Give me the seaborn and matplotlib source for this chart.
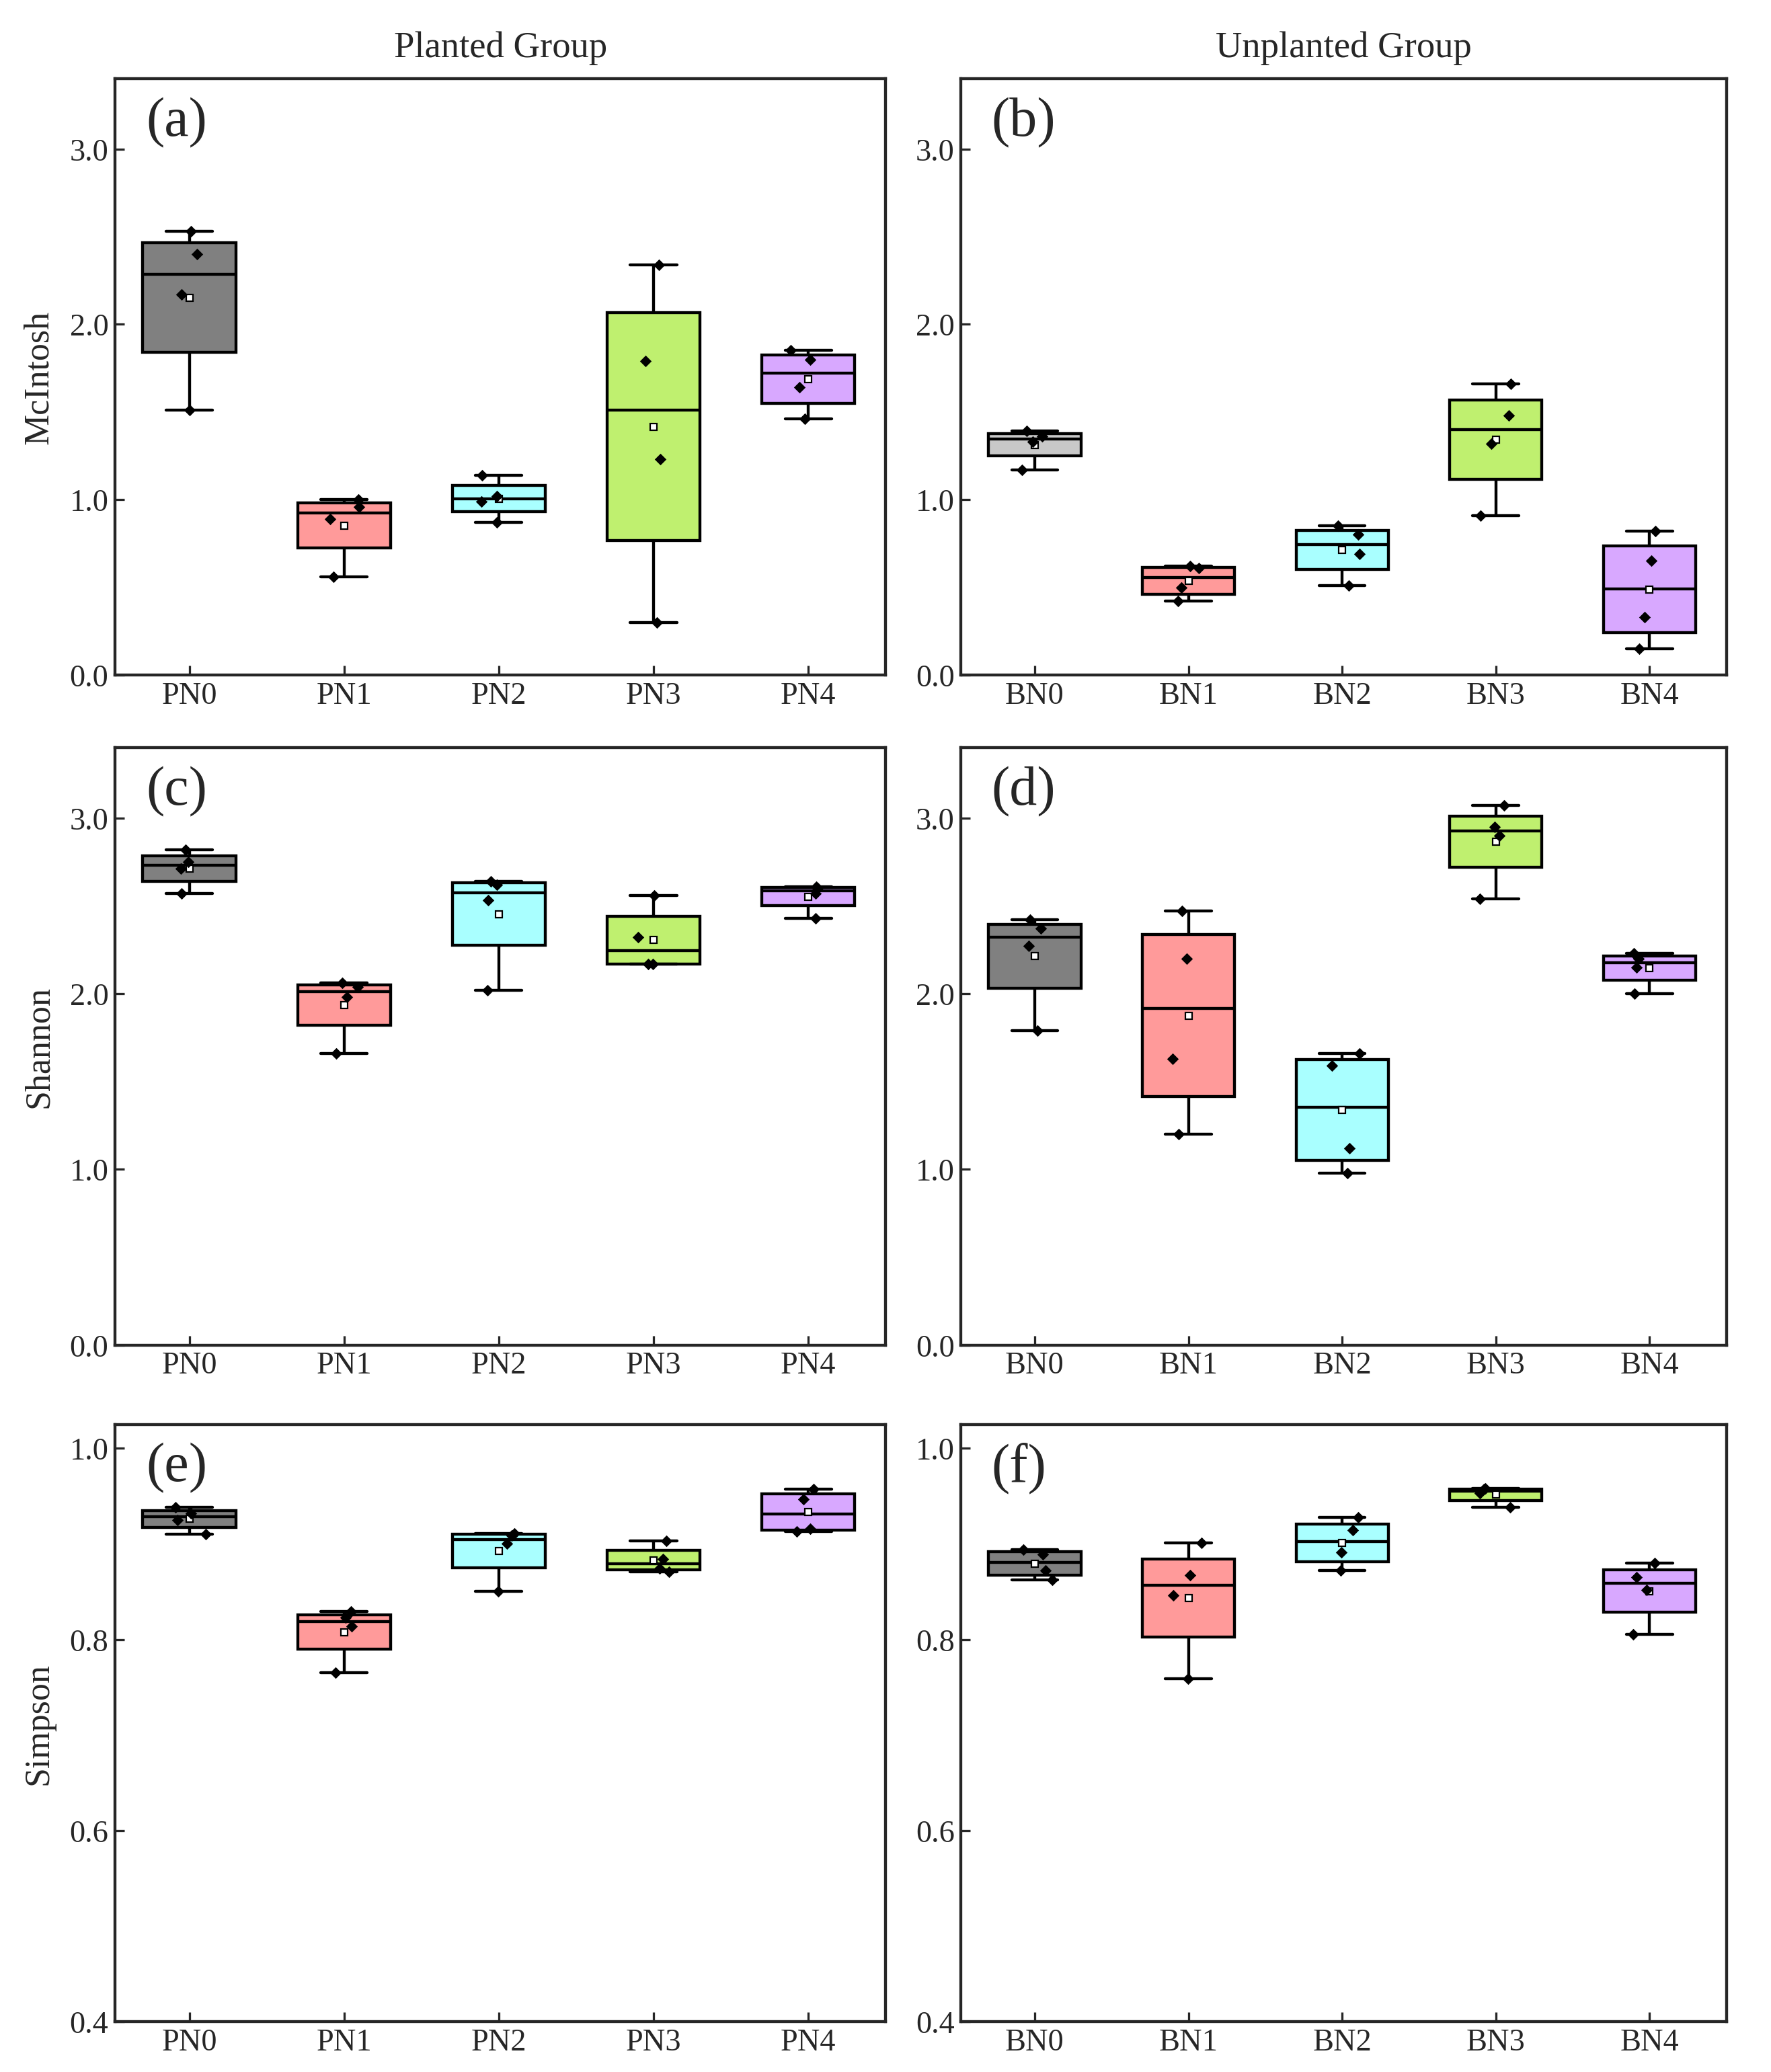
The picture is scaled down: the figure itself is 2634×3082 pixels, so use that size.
import numpy as np
import pandas as pd
import seaborn as sns
import matplotlib.pyplot as plt
import matplotlib.cbook as cbook

sns.set_style("ticks")
plt.rcParams['font.family'] = ['Liberation Serif', 'DejaVu Serif']


class _NpShim:
    """numpy proxy so box quartiles use the midpoint method (as in the reference)."""
    def __getattr__(self, name):
        return getattr(np, name)

    def percentile(self, a, q, *args, **kw):
        kw.pop("method", None)
        return np.percentile(a, q, method="midpoint")


cbook.np = _NpShim()

planted = ["PN0", "PN1", "PN2", "PN3", "PN4"]
unplanted = ["BN0", "BN1", "BN2", "BN3", "BN4"]

mc_p = [[2.53, 2.40, 2.17, 1.51], [1.00, 0.96, 0.89, 0.56], [1.14, 1.02, 0.99, 0.87],
        [2.34, 1.79, 1.23, 0.30], [1.85, 1.80, 1.64, 1.46]]
mc_u = [[1.39, 1.36, 1.33, 1.17], [0.62, 0.61, 0.50, 0.42], [0.85, 0.80, 0.69, 0.51],
        [1.66, 1.48, 1.32, 0.91], [0.82, 0.65, 0.33, 0.15]]
sh_p = [[2.82, 2.75, 2.71, 2.57], [2.06, 2.04, 1.98, 1.66], [2.64, 2.62, 2.53, 2.02],
        [2.56, 2.32, 2.17, 2.17], [2.61, 2.60, 2.57, 2.43]]
sh_u = [[2.42, 2.37, 2.27, 1.79], [2.47, 2.20, 1.63, 1.20], [1.66, 1.59, 1.12, 0.98],
        [3.07, 2.95, 2.90, 2.54], [2.23, 2.20, 2.15, 2.00]]
si_p = [[0.938, 0.932, 0.925, 0.910], [0.829, 0.823, 0.814, 0.765], [0.911, 0.909, 0.900, 0.850],
        [0.903, 0.884, 0.874, 0.871], [0.957, 0.947, 0.916, 0.913]]
si_u = [[0.894, 0.889, 0.872, 0.862], [0.901, 0.867, 0.846, 0.759], [0.928, 0.914, 0.891, 0.872],
        [0.958, 0.957, 0.953, 0.938], [0.880, 0.865, 0.852, 0.805]]

colors_main = ["#808080", "#ff9a9a", "#a9ffff", "#bff06f", "#d8a8ff"]
colors_light = ["#c8c8c8", "#ff9a9a", "#a9ffff", "#bff06f", "#d8a8ff"]

W, H = 1340, 1568
fig = plt.figure(figsize=(13.4, 15.68), dpi=196.6)
cols = [(87, 670), (727, 1306)]
rows = [(60, 511), (566, 1018), (1078, 1530)]
panels = [
    (mc_p, planted, colors_main, "McIntosh", (0, 3.4), [0, 1, 2, 3], "(a)"),
    (mc_u, unplanted, colors_light, None, (0, 3.4), [0, 1, 2, 3], "(b)"),
    (sh_p, planted, colors_main, "Shannon", (0, 3.4), [0, 1, 2, 3], "(c)"),
    (sh_u, unplanted, colors_main, None, (0, 3.4), [0, 1, 2, 3], "(d)"),
    (si_p, planted, colors_main, "Simpson", (0.4, 1.025), [0.4, 0.6, 0.8, 1.0], "(e)"),
    (si_u, unplanted, colors_main, None, (0.4, 1.025), [0.4, 0.6, 0.8, 1.0], "(f)"),
]
np.random.seed(3)
for i, (vals, cats, cols_, ylab, ylim, yt, lab) in enumerate(panels):
    r, c = divmod(i, 2)
    x0, x1 = cols[c]
    t, b = rows[r]
    ax = fig.add_axes([x0 / W, 1 - b / H, (x1 - x0) / W, (b - t) / H])
    df = pd.DataFrame({"g": np.repeat(cats, 4), "v": np.concatenate(vals)})
    sns.boxplot(data=df, x="g", y="v", hue="g", palette=cols_, order=cats, whis=np.inf,
                width=0.6, linewidth=1.6, linecolor="black", showmeans=True, legend=False,
                saturation=1,
                meanprops=dict(marker="s", markerfacecolor="white", markeredgecolor="black",
                               markersize=4, markeredgewidth=0.8),
                medianprops=dict(color="black", linewidth=1.6),
                whiskerprops=dict(color="black", linewidth=1.6),
                capprops=dict(color="black", linewidth=1.6), ax=ax)
    sns.stripplot(data=df, x="g", y="v", order=cats, color="black", marker="D", size=4.5,
                  jitter=0.12, ax=ax)
    ax.set_xlim(-0.48, 4.5)
    ax.set_ylim(*ylim)
    ax.set_yticks(yt)
    ax.set_yticklabels([f"{v:.1f}" for v in yt])
    ax.set_xlabel("")
    ax.set_ylabel(ylab if ylab else "", fontsize=19, labelpad=8)
    ax.tick_params(direction="in", labelsize=17, length=5, width=1.2)
    for s in ax.spines.values():
        s.set_linewidth(1.6)
    ax.text(0.04, 0.97, lab, transform=ax.transAxes, fontsize=30, va="top", ha="left")
    if r == 0:
        ax.set_title(["Planted Group", "Unplanted Group"][c], fontsize=20, pad=12)

fig.savefig("out.png", dpi=196.6)
